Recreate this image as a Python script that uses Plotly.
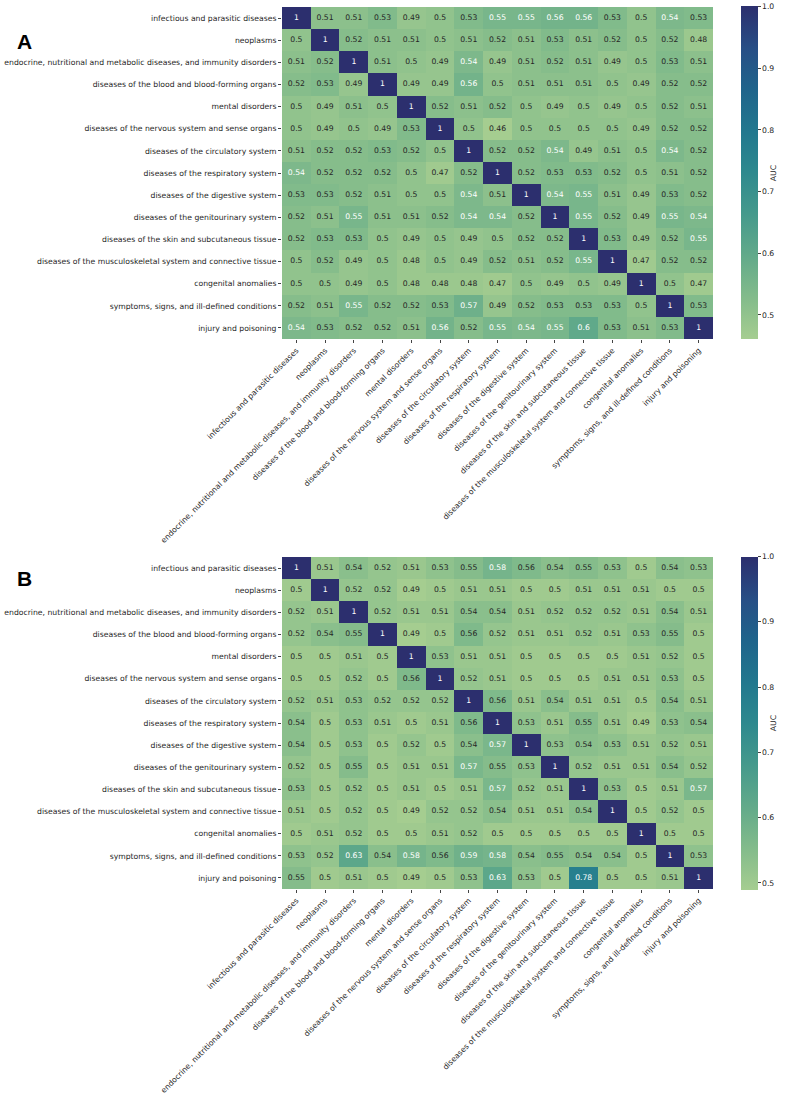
import plotly.graph_objects as go

categories = [
    "infectious and parasitic diseases",
    "neoplasms",
    "endocrine, nutritional and metabolic diseases, and immunity disorders",
    "diseases of the blood and blood-forming organs",
    "mental disorders",
    "diseases of the nervous system and sense organs",
    "diseases of the circulatory system",
    "diseases of the respiratory system",
    "diseases of the digestive system",
    "diseases of the genitourinary system",
    "diseases of the skin and subcutaneous tissue",
    "diseases of the musculoskeletal system and connective tissue",
    "congenital anomalies",
    "symptoms, signs, and ill-defined conditions",
    "injury and poisoning",
]

auc_a = [
    [1, 0.51, 0.51, 0.53, 0.49, 0.5, 0.53, 0.55, 0.55, 0.56, 0.56, 0.53, 0.5, 0.54, 0.53],
    [0.5, 1, 0.52, 0.51, 0.51, 0.5, 0.51, 0.52, 0.51, 0.53, 0.51, 0.52, 0.5, 0.52, 0.48],
    [0.51, 0.52, 1, 0.51, 0.5, 0.49, 0.54, 0.49, 0.51, 0.52, 0.51, 0.49, 0.5, 0.53, 0.51],
    [0.52, 0.53, 0.49, 1, 0.49, 0.49, 0.56, 0.5, 0.51, 0.51, 0.51, 0.5, 0.49, 0.52, 0.52],
    [0.5, 0.49, 0.51, 0.5, 1, 0.52, 0.51, 0.52, 0.5, 0.49, 0.5, 0.49, 0.5, 0.52, 0.51],
    [0.5, 0.49, 0.5, 0.49, 0.53, 1, 0.5, 0.46, 0.5, 0.5, 0.5, 0.5, 0.49, 0.52, 0.52],
    [0.51, 0.52, 0.52, 0.53, 0.52, 0.5, 1, 0.52, 0.52, 0.54, 0.49, 0.51, 0.5, 0.54, 0.52],
    [0.54, 0.52, 0.52, 0.52, 0.5, 0.47, 0.52, 1, 0.52, 0.53, 0.53, 0.52, 0.5, 0.51, 0.52],
    [0.53, 0.53, 0.52, 0.51, 0.5, 0.5, 0.54, 0.51, 1, 0.54, 0.55, 0.51, 0.49, 0.53, 0.52],
    [0.52, 0.51, 0.55, 0.51, 0.51, 0.52, 0.54, 0.54, 0.52, 1, 0.55, 0.52, 0.49, 0.55, 0.54],
    [0.52, 0.53, 0.53, 0.5, 0.49, 0.5, 0.49, 0.5, 0.52, 0.52, 1, 0.53, 0.49, 0.52, 0.55],
    [0.5, 0.52, 0.49, 0.5, 0.48, 0.5, 0.49, 0.52, 0.51, 0.52, 0.55, 1, 0.47, 0.52, 0.52],
    [0.5, 0.5, 0.49, 0.5, 0.48, 0.48, 0.48, 0.47, 0.5, 0.49, 0.5, 0.49, 1, 0.5, 0.47],
    [0.52, 0.51, 0.55, 0.52, 0.52, 0.53, 0.57, 0.49, 0.52, 0.53, 0.53, 0.53, 0.5, 1, 0.53],
    [0.54, 0.53, 0.52, 0.52, 0.51, 0.56, 0.52, 0.55, 0.54, 0.55, 0.6, 0.53, 0.51, 0.53, 1],
]

auc_b = [
    [1, 0.51, 0.54, 0.52, 0.51, 0.53, 0.55, 0.58, 0.56, 0.54, 0.55, 0.53, 0.5, 0.54, 0.53],
    [0.5, 1, 0.52, 0.52, 0.49, 0.5, 0.51, 0.51, 0.5, 0.5, 0.51, 0.51, 0.51, 0.5, 0.5],
    [0.52, 0.51, 1, 0.52, 0.51, 0.51, 0.54, 0.54, 0.51, 0.52, 0.52, 0.52, 0.51, 0.54, 0.51],
    [0.52, 0.54, 0.55, 1, 0.49, 0.5, 0.56, 0.52, 0.51, 0.51, 0.52, 0.51, 0.53, 0.55, 0.5],
    [0.5, 0.5, 0.51, 0.5, 1, 0.53, 0.51, 0.51, 0.5, 0.5, 0.5, 0.5, 0.51, 0.52, 0.5],
    [0.5, 0.5, 0.52, 0.5, 0.56, 1, 0.52, 0.51, 0.5, 0.5, 0.5, 0.51, 0.51, 0.53, 0.5],
    [0.52, 0.51, 0.53, 0.52, 0.52, 0.52, 1, 0.56, 0.51, 0.54, 0.51, 0.51, 0.5, 0.54, 0.51],
    [0.54, 0.5, 0.53, 0.51, 0.5, 0.51, 0.56, 1, 0.53, 0.51, 0.55, 0.51, 0.49, 0.53, 0.54],
    [0.54, 0.5, 0.53, 0.5, 0.52, 0.5, 0.54, 0.57, 1, 0.53, 0.54, 0.53, 0.51, 0.52, 0.51],
    [0.52, 0.5, 0.55, 0.5, 0.51, 0.51, 0.57, 0.55, 0.53, 1, 0.52, 0.51, 0.51, 0.54, 0.52],
    [0.53, 0.5, 0.52, 0.5, 0.51, 0.5, 0.51, 0.57, 0.52, 0.51, 1, 0.53, 0.5, 0.51, 0.57],
    [0.51, 0.5, 0.52, 0.5, 0.49, 0.52, 0.52, 0.54, 0.51, 0.51, 0.54, 1, 0.5, 0.52, 0.5],
    [0.5, 0.51, 0.52, 0.5, 0.5, 0.51, 0.52, 0.5, 0.5, 0.5, 0.5, 0.5, 1, 0.5, 0.5],
    [0.53, 0.52, 0.63, 0.54, 0.58, 0.56, 0.59, 0.58, 0.54, 0.55, 0.54, 0.54, 0.5, 1, 0.53],
    [0.55, 0.5, 0.51, 0.5, 0.49, 0.5, 0.53, 0.63, 0.53, 0.5, 0.78, 0.5, 0.5, 0.51, 1],
]

cbar_ticks = [0.5, 0.6, 0.7, 0.8, 0.9, 1.0]

# approximation of seaborn "crest"
crest = [
    [0.0, "#a5cd90"], [0.12, "#84bc8b"], [0.25, "#62aa8a"], [0.38, "#44998c"],
    [0.5, "#2e898e"], [0.62, "#22788e"], [0.75, "#1f648b"], [0.87, "#274f86"],
    [1.0, "#2c2f6e"],
]

font = "DejaVu Sans"
fs = 7.7
W, H = 789, 1097
x_dom = [282 / W, 713 / W]
n = len(categories)
panels = [
    dict(z=auc_a, label="A", top=7, bottom=339, zmin=0.46),
    dict(z=auc_b, label="B", top=557, bottom=889, zmin=0.49),
]

fig = go.Figure()

for i, p in enumerate(panels):
    ax = "" if i == 0 else str(i + 1)
    xref, yref = "x" + ax, "y" + ax
    fig.add_trace(go.Heatmap(
        z=p["z"], x=categories, y=categories,
        xaxis=xref, yaxis=yref,
        colorscale=crest, zmin=p["zmin"], zmax=1.0,
        xgap=0, ygap=0, hoverinfo="z",
        colorbar=dict(
            x=741 / W, xanchor="left", xpad=0, ypad=0,
            y=1 - (p["top"] + p["bottom"]) / 2 / H, yanchor="middle",
            lenmode="pixels", len=p["bottom"] - p["top"] + 1,
            thickness=17, outlinewidth=0, ticks="outside", ticklen=3,
            tickvals=cbar_ticks, tickformat=".1f",
            tickfont=dict(family=font, size=fs, color="#262626"),
            title=dict(text="AUC", side="right", font=dict(family=font, size=fs, color="#262626")),
        ),
    ))
    # cell annotations, colour chosen by cell darkness
    for dark in (False, True):
        xs, ys, ts = [], [], []
        for r, row in enumerate(p["z"]):
            for c, v in enumerate(row):
                t = (v - p["zmin"]) / (1.0 - p["zmin"])
                if (t > 0.14) == dark:
                    xs.append(categories[c])
                    ys.append(categories[r])
                    ts.append(f"{v:.2g}")
        fig.add_trace(go.Scatter(
            x=xs, y=ys, text=ts, mode="text", xaxis=xref, yaxis=yref,
            textfont=dict(family=font, size=fs, color="white" if dark else "#262626"),
            hoverinfo="skip", showlegend=False,
        ))

    dom_y = [1 - p["bottom"] / H, 1 - p["top"] / H]
    fig.layout["xaxis" + ax] = dict(
        domain=x_dom, anchor=yref, tickangle=-45, ticks="outside", ticklen=3,
        tickfont=dict(family=font, size=fs, color="#262626"), automargin=False,
        showgrid=False, zeroline=False, showline=False,
        categoryorder="array", categoryarray=categories, range=[-0.5, n - 0.5],
    )
    fig.layout["yaxis" + ax] = dict(
        domain=dom_y, anchor=xref, ticks="outside", ticklen=3,
        tickfont=dict(family=font, size=fs, color="#262626"), automargin=False,
        showgrid=False, zeroline=False, showline=False,
        categoryorder="array", categoryarray=categories, range=[n - 0.5, -0.5],
    )
    fig.add_annotation(
        x=15 / W, y=1 - (p["top"] + 21) / H, xref="paper", yref="paper",
        text=f"<b>{p['label']}</b>", showarrow=False,
        font=dict(family="Liberation Sans", size=21, color="black"),
    )

fig.update_layout(
    width=W, height=H, margin=dict(l=0, r=0, t=0, b=0, autoexpand=False),
    paper_bgcolor="white", plot_bgcolor="white", showlegend=False,
)

# drop the browser's default page margin so the figure sits at the window origin
fig.write_html("out.html", config={"displayModeBar": False},
               post_script="document.body.style.margin='0';")
